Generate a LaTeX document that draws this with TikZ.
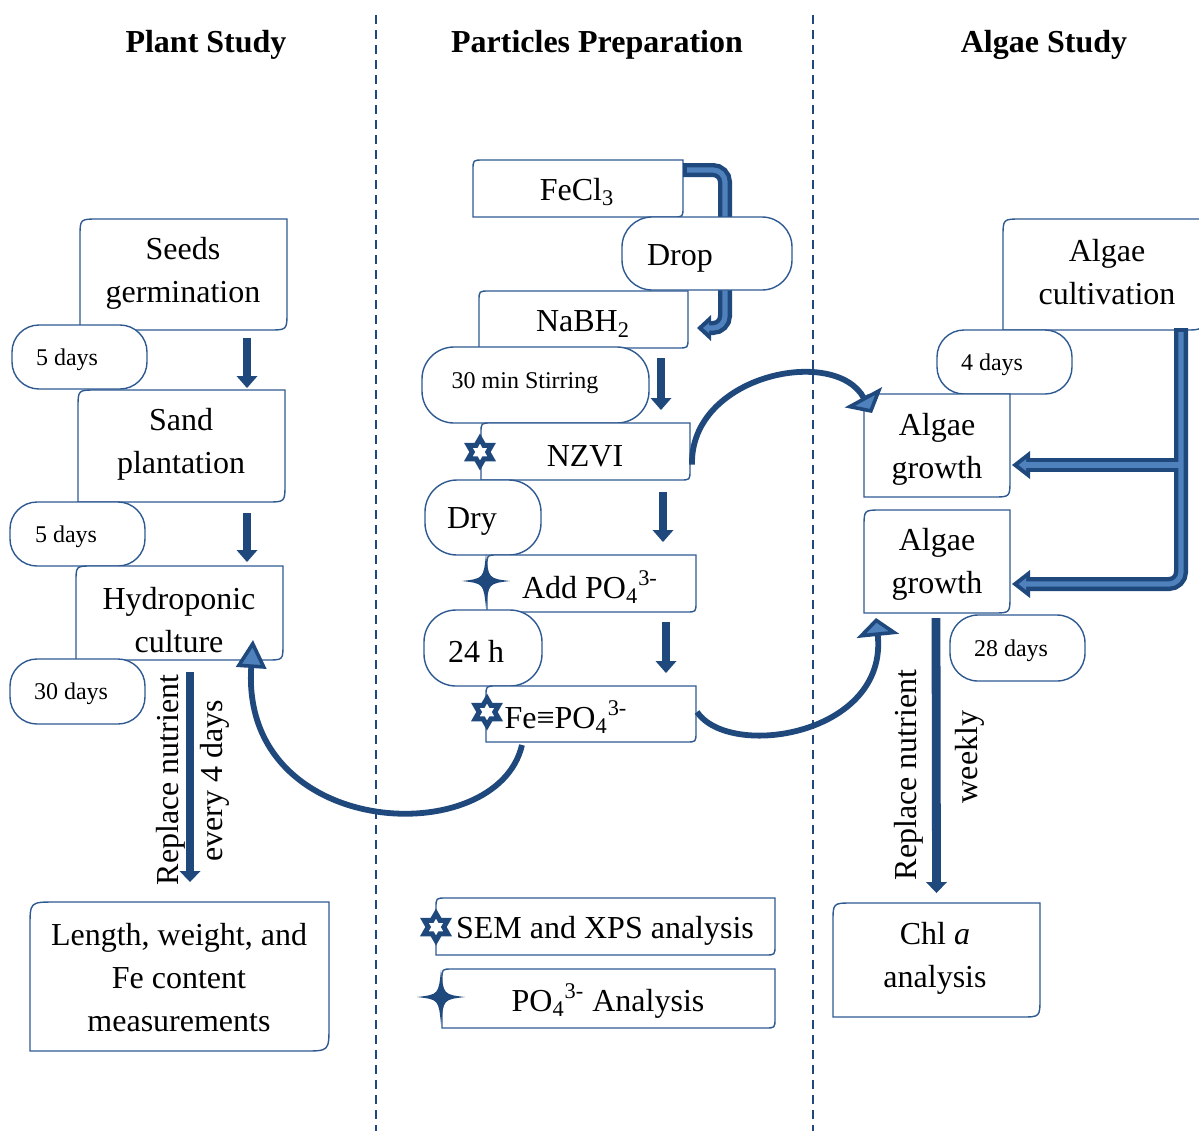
\documentclass[tikz,border=0pt]{standalone}
\usepackage{fontspec}
\setmainfont{Liberation Serif}
\usetikzlibrary{fit,calc,arrows.meta}
\definecolor{bcol}{HTML}{2F5A91}
\definecolor{acol}{HTML}{1F497D}
\definecolor{lcol}{HTML}{4F81BD}

\newcommand\dframe[2]{\draw[boxline] (#1.south west) -- ($(#1.north west)+(0,#2)$) .. controls (#1.north west) .. ($(#1.north west)+(#2,0)$) -- (#1.north east) -- ($(#1.south east)+(0,-#2)$) .. controls (#1.south east) .. ($(#1.south east)+(-#2,0)$) -- cycle;}
\newcommand\dbox[5]{\node[fit={#2}, inner sep=0pt, outer sep=0pt] (#1) {};\dframe{#1}{#3}\node[maintxt] (#1-t) at #4 {#5};}
\newcommand\cbox[6][smalltxt]{\node[capsule, fit={#3}, rounded corners=#4] (#2) {};\node[#1] (#2-t) at #5 {#6};}

\begin{document}
\begin{tikzpicture}[x=0.5pt,y=-0.5pt,
  boxline/.style={draw=bcol, line width=0.7pt, fill=white},
  capsule/.style={draw=bcol, line width=0.7pt, fill=white, inner sep=0pt, outer sep=0pt},
  maintxt/.style={font=\fontsize{16}{21.5}\selectfont, align=center, inner sep=0pt, yshift=-1.5pt},
  rottxt/.style={font=\fontsize{16}{21.5}\selectfont, inner sep=0pt, rotate=90},
  smalltxt/.style={font=\fontsize{12}{14}\selectfont, inner sep=0pt, yshift=-1.2pt},
  titletxt/.style={font=\fontsize{16}{19}\selectfont\bfseries, inner sep=0pt, yshift=-2pt},
  divider/.style={draw=acol, line width=1pt, dash pattern=on 4.5pt off 3pt},
  fatarr/.style={draw=acol, line width=4.4pt, -{Triangle[length=6pt,width=10.5pt,line width=0pt]}},
  longarr/.style={draw=acol, line width=4.4pt, -{Triangle[length=5.5pt,width=10.5pt,line width=0pt]}},
  obar/.style={draw=acol, line width=7pt, rounded corners=6pt},
  ibar/.style={draw=lcol, line width=2.6pt, rounded corners=6pt},
  curv/.style={draw=acol, line width=2.9pt},
  hexa/.pic={\draw[acol, line width=2.5pt, fill=white, line join=miter] (90:13.5) -- (120:7.8) -- (150:13.5) -- (180:7.8) -- (210:13.5) -- (240:7.8) -- (270:13.5) -- (300:7.8) -- (330:13.5) -- (0:7.8) -- (30:13.5) -- (60:7.8) -- cycle;},
  sparkle/.pic={\fill[acol] (0,-27) .. controls (2.5,-2.5) .. (24,0) .. controls (2.5,2.5) .. (0,27) .. controls (-2.5,2.5) .. (-24,0) .. controls (-2.5,-2.5) .. cycle;}
]
\fill[white] (0,0) rectangle (1199,1131);
\useasboundingbox (0,0) rectangle (1199,1131);

% dividers
\coordinate (dla) at (376,15); \coordinate (dlb) at (376,1131);
\coordinate (dra) at (813,15); \coordinate (drb) at (813,1131);
\draw[divider] (dla) -- (dlb);
\draw[divider] (dra) -- (drb);

% titles
\node[titletxt] (tplant) at (206,41) {Plant Study};
\node[titletxt] (tprep) at (597,41) {Particles Preparation};
\node[titletxt] (talgae) at (1044,41) {Algae Study};

% ---------- left column ----------
\dbox{seeds}{(80,219) (287,330)}{18}{(183,270)}{Seeds\\germination}
\cbox{d5a}{(12,325) (147,389)}{13.5pt}{(67,357)}{5 days}
\dbox{sand}{(78,390) (285,502)}{18}{(181,441)}{Sand\\plantation}
\cbox{d5b}{(10,502) (145,566)}{13.5pt}{(66,534)}{5 days}
\dbox{hydro}{(76,566) (283,660)}{16}{(179,617)}{Hydroponic\\culture}
\cbox{d30}{(10,659) (145,724)}{13.5pt}{(71,691)}{30 days}
\dbox{lenm}{(30,902) (329,1051)}{25}{(179,975)}{Length, weight, and\\Fe content\\measurements}

\draw[fatarr] ($(seeds.south east)+(-40,8)$) -- ($(sand.north east)+(-38,-2)$);
\draw[fatarr] ($(sand.south east)+(-38,11)$) -- ($(hydro.north east)+(-36,-4)$);
\draw[longarr] ($(hydro.south)+(10.5,12)$) -- ($(lenm.north)+(10.5,-20)$);
\node[rottxt] (rn1) at (171,780) {Replace nutrient};
\node[rottxt] (rn2) at (215,781) {every 4 days};

% ---------- middle column ----------
\dbox{fecl}{(473,160) (683,217)}{10}{(577,189)}{FeCl\textsubscript{3}}
\dbox{nabh}{(479,291) (688,348)}{10}{(583,321)}{NaBH\textsubscript{2}}
\coordinate (fa0) at ($(fecl.north east)+(0,10)$);
\coordinate (fa1) at ($(fecl.north east)+(42,10)$);
\coordinate (fa2) at ($(nabh.east)+(37,8.5)$);
\coordinate (fa3) at ($(nabh.east)+(9,8.5)$);
\draw[obar, -{Triangle[length=7pt,width=13pt,line width=0pt]}] (fa0) -- (fa1) -- (fa2) -- (fa3);
\draw[ibar, shorten <=2pt, shorten >=3pt, -{Triangle[length=3pt,width=5pt,line width=0pt]}] (fa0) -- (fa1) -- (fa2) -- (fa3);
\cbox[maintxt]{drop}{(622,217) (792,290)}{15pt}{(680,255)}{Drop}
\cbox{stir}{(422,347) (649,423)}{16pt}{(525,381)}{30 min Stirring}
\dbox{nzvi}{(481,423) (690,480)}{10}{(585,453)}{NZVI}
\pic at ($(nzvi.west)+(-1,0.5)$) {hexa};
\cbox[maintxt]{dry}{(425,480) (541,555)}{16pt}{(472,518)}{Dry}
\dbox{addpo}{(487,555) (696,612)}{10}{(590,584)}{Add PO\textsubscript{4}\textsuperscript{3-}}
\pic at ($(addpo.west)+(-1,-2.5)$) {sparkle};
\cbox[maintxt]{hday}{(424,610) (542,686)}{16pt}{(476,648)}{24 h}
\dbox{fepo}{(486,686) (696,742)}{10}{(566,714)}{Fe≡PO\textsubscript{4}\textsuperscript{3-}}
\pic at ($(fepo.west)+(1,-2)$) {hexa};

\draw[fatarr] ($(nabh.south east)+(-27,10)$) -- ($(nzvi.north east)+(-29,-13)$);
\draw[fatarr] ($(nzvi.south east)+(-27,12)$) -- ($(addpo.north east)+(-33,-13)$);
\draw[fatarr] ($(addpo.south east)+(-30,10)$) -- ($(fepo.north east)+(-30,-13)$);

\dbox{sem}{(436,898) (775,955)}{10}{(605,928)}{SEM and XPS analysis}
\pic at ($(sem.west)+(0,0.5)$) {hexa};
\dbox{poa}{(442,969) (775,1028)}{10}{(608,998)}{PO\textsubscript{4}\textsuperscript{3-} Analysis}
\pic at ($(poa.west)+(-1,-1.5)$) {sparkle};

% ---------- right column ----------
\dbox{cult}{(1003,219) (1203,330)}{18}{(1107,269)}{Algae\\cultivation}
\cbox{dfour}{(937,330) (1072,394)}{13.5pt}{(992,362)}{4 days}
\dbox{gone}{(864,394) (1010,497)}{17}{(937,446)}{Algae\\growth}
\dbox{gtwo}{(864,510) (1010,613)}{17}{(937,561)}{Algae\\growth}
\cbox{dtw}{(950,615) (1085,681)}{14pt}{(1011,648)}{28 days}
\dbox{chl}{(833,903) (1040,1017)}{19}{(935,955)}{Chl \textit{a}\\analysis}

\coordinate (va) at ($(cult.south east)+(-22,-2)$);
\coordinate (vb) at ($(gtwo.south east)+(171,-29)$);
\coordinate (vt) at ($(gtwo.south east)+(2,-29)$);
\coordinate (ba) at ($(gone.south east)+(171,-32)$);
\coordinate (bt) at ($(gone.south east)+(2,-32)$);
\draw[obar, -{Triangle[length=9pt,width=14pt,line width=0pt]}] (va) -- (vb) -- (vt);
\draw[obar, -{Triangle[length=9pt,width=14pt,line width=0pt]}] (ba) -- (bt);
\draw[ibar, shorten <=2pt, shorten >=3.3pt, -{Triangle[length=3.8pt,width=6pt,line width=0pt]}] (va) -- (vb) -- (vt);
\draw[ibar, shorten >=3.3pt, -{Triangle[length=3.8pt,width=6pt,line width=0pt]}] (ba) -- (bt);

\draw[longarr] ($(gtwo.south)+(-1,5)$) -- ($(chl.north)+(0,-10)$);
\node[rottxt] (rn3) at (909,775) {Replace nutrient};
\node[rottxt] (rn4) at (970,757) {weekly};

% ---------- curved arrows ----------
\draw[curv, -{Triangle[length=14pt,width=15pt,line width=1.8pt,fill=lcol]}]
  ($(fepo.south west)+(36,3)$) .. controls (497,852) and (240,840) .. ($(hydro.south east)+(-30,-20)$);
\draw[curv, -{Triangle[length=9pt,width=21pt,line width=1.8pt,fill=lcol]}]
  ($(nzvi.east)+(2,13)$) .. controls (690,375) and (835,345) .. ($(gone.north west)+(8,19)$);
\draw[curv, -{Triangle[length=9pt,width=21pt,line width=1.8pt,fill=lcol]}]
  ($(fepo.east)+(1,-2)$) .. controls (730,760) and (888,735) .. ($(gtwo.south west)+(12,5)$);
\end{tikzpicture}
\end{document}
